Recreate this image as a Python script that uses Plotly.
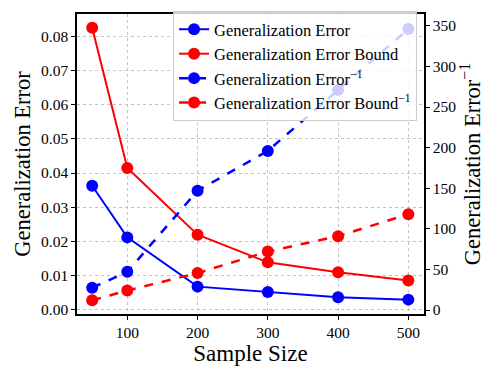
import plotly.graph_objects as go

sample_size = [50, 100, 200, 300, 400, 500]
gen_error = [0.0363, 0.0212, 0.0068, 0.0052, 0.0037, 0.0030]
gen_bound = [0.0825, 0.0415, 0.0220, 0.0139, 0.0110, 0.0086]
gen_error_inv = [27.5, 47.0, 147.0, 196.0, 271.0, 346.0]
gen_bound_inv = [12.0, 24.0, 45.5, 72.0, 91.0, 118.0]

serif = 'Liberation Serif, Times New Roman, serif'

fig = go.Figure()
fig.add_trace(go.Scatter(x=sample_size, y=gen_error, mode='lines+markers',
                         name='Generalization Error',
                         line=dict(color='blue', width=2), marker=dict(size=12)))
fig.add_trace(go.Scatter(x=sample_size, y=gen_bound, mode='lines+markers',
                         name='Generalization Error Bound',
                         line=dict(color='red', width=2), marker=dict(size=12)))
fig.add_trace(go.Scatter(x=sample_size, y=gen_error_inv, mode='lines+markers',
                         name='Generalization Error<sup>−1</sup>', yaxis='y2',
                         line=dict(color='blue', width=2.5, dash='dash'), marker=dict(size=12)))
fig.add_trace(go.Scatter(x=sample_size, y=gen_bound_inv, mode='lines+markers',
                         name='Generalization Error Bound<sup>−1</sup>', yaxis='y2',
                         line=dict(color='red', width=2.5, dash='dash'), marker=dict(size=12)))

axis_common = dict(showline=True, linecolor='black', linewidth=1.5,
                   ticks='outside', ticklen=4, tickcolor='black',
                   tickfont=dict(family=serif, size=15.5, color='black'), zeroline=False)

fig.update_layout(
    width=498, height=377,
    margin=dict(l=77, r=74, t=11, b=63),
    paper_bgcolor='white', plot_bgcolor='white',
    font=dict(family=serif, color='black'),
    xaxis=dict(title=dict(text='Sample Size', font=dict(size=23), standoff=4),
               range=[28.4, 522.3], tickvals=[100, 200, 300, 400, 500],
               showgrid=True, gridcolor='#c4c4c4', griddash='dot', gridwidth=1,
               mirror=True, **axis_common),
    yaxis=dict(title=dict(text='Generalization Error', font=dict(size=22.5), standoff=4),
               range=[-0.0012, 0.0865], dtick=0.01, tickformat='.2f',
               showgrid=True, gridcolor='#c4c4c4', griddash='dot', gridwidth=1,
               **axis_common),
    yaxis2=dict(title=dict(text='Generalization Error<sup>−1</sup>', font=dict(size=22.5), standoff=4),
                overlaying='y', side='right', range=[-4.9, 364.6], dtick=50,
                showgrid=False, **axis_common),
    legend=dict(x=0.98, y=1.01, xanchor='right', yanchor='top',
                bgcolor='rgba(255,255,255,0.8)', bordercolor='#cccccc', borderwidth=1,
                font=dict(family=serif, size=16.5, color='black'),
                tracegroupgap=0, itemwidth=30),
    showlegend=True,
)

# page has a default body margin, drop it so the figure sits at 0,0
fig.write_html("out.html", config={'displayModeBar': False},
               post_script="document.body.style.margin = '0';")
